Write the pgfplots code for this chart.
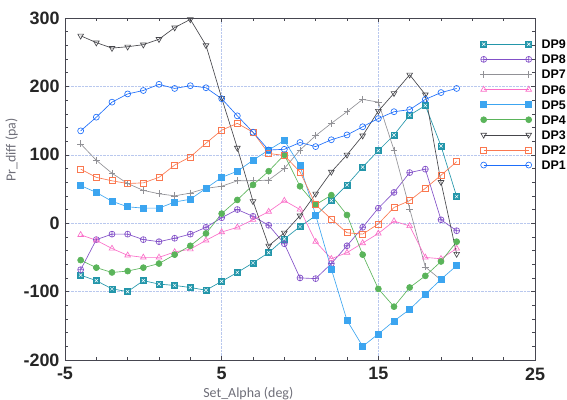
\documentclass[border=0pt]{standalone}
\usepackage{fontspec}
\setmainfont{Liberation Sans}
\newfontfamily\labelfont{Carlito}
\usepackage{pgfplots}
\pgfplotsset{compat=1.18}
\definecolor{c1}{RGB}{30,110,250}
\definecolor{c2}{RGB}{250,120,80}
\definecolor{c3}{RGB}{70,70,75}
\definecolor{c4}{RGB}{90,180,90}
\definecolor{c5}{RGB}{60,165,240}
\definecolor{c6}{RGB}{250,110,200}
\definecolor{c7}{RGB}{145,145,150}
\definecolor{c8}{RGB}{130,80,200}
\definecolor{c9}{RGB}{35,150,170}
\definecolor{gridc}{RGB}{185,200,238}
\definecolor{axc}{RGB}{70,70,80}
\definecolor{labc}{RGB}{110,110,120}
\pgfdeclareplotmark{boxx}{%
  \pgfpathrectangle{\pgfqpoint{-\pgfplotmarksize}{-\pgfplotmarksize}}{\pgfqpoint{2\pgfplotmarksize}{2\pgfplotmarksize}}%
  \pgfusepathqfillstroke
  \pgfscope
  \pgfsetstrokecolor{white}%
  \pgfsetlinewidth{0.5pt}%
  \pgfpathmoveto{\pgfqpoint{-0.55\pgfplotmarksize}{-0.55\pgfplotmarksize}}%
  \pgfpathlineto{\pgfqpoint{0.55\pgfplotmarksize}{0.55\pgfplotmarksize}}%
  \pgfpathmoveto{\pgfqpoint{-0.55\pgfplotmarksize}{0.55\pgfplotmarksize}}%
  \pgfpathlineto{\pgfqpoint{0.55\pgfplotmarksize}{-0.55\pgfplotmarksize}}%
  \pgfusepathqstroke
  \endpgfscope
}
\begin{document}
\begin{tikzpicture}
\useasboundingbox (-65bp,-40bp) rectangle (502bp,360bp);
\begin{axis}[
  at={(0,0)}, anchor=south west,
  scale only axis, width=470bp, height=342bp,
  xmin=-5, xmax=25, ymin=-200, ymax=300,
  xtick={-5,5,15,25}, xticklabels={-5,5,15,25},
  ytick={-200,-100,0,100,200,300}, yticklabels={-200,-100,0,100,200,300},
  minor x tick num=4, minor y tick num=4,
  tick align=inside,
  major tick length=4bp, minor tick length=3bp,
  every tick/.style={axc, line width=0.5pt},
  axis line style={axc, line width=0.8pt},
  grid=major,
  major grid style={densely dotted, gridc, line width=0.5pt},
  ticklabel style={font=\bfseries\fontsize{18}{18}\selectfont, text=black!85},
  xticklabel style={yshift=-4bp},
  yticklabel style={xshift=-2bp},
  xlabel={Set\_Alpha (deg)},
  ylabel={Pr\_diff (pa)},
  label style={font=\labelfont\fontsize{14}{14}\selectfont, text=labc},
  xlabel style={at={(axis cs:6.7,-239.5)}, anchor=north, inner sep=0pt},
  ylabel style={at={(axis cs:-8.4,107)}, anchor=center, inner sep=0pt, rotate=0},
  legend style={at={(0.883,0.937)}, anchor=north west, draw=none, fill=none,
    inner sep=0pt, font=\bfseries\fontsize{12.5}{12.5}\selectfont,
    row sep=6.1bp, column sep=0bp,
    nodes={inner sep=0pt, text height=9bp, text depth=0bp}},
  legend cell align=left,
  legend image code/.code={\path[draw=none,fill=none] (0bp,0bp) -- (58bp,0bp);
    \draw[mark repeat=1,mark phase=1,#1] plot coordinates {(0bp,0bp) (45bp,0bp)};},
  every axis plot/.append style={line width=0.65pt, mark size=3pt},
  clip=false,
]
\addplot[c9, mark=boxx, mark options={fill=c9, draw=c9}] coordinates {
(-4,-76) (-3,-84) (-2,-96) (-1,-100) (0,-84) (1,-89) (2,-91) (3,-94) (4,-98) (5,-85)
(6,-72) (7,-58) (8,-43) (9,-23) (10,-5) (11,11) (12,33) (13,56) (14,82) (15,106)
(16,129) (17,158) (18,172) (19,113) (20,39)};
\addlegendentry{DP9}
\addplot[c8, mark=oplus, mark options={draw=c8}] coordinates {
(-4,-68) (-3,-24) (-2,-16) (-1,-16) (0,-24) (1,-27) (2,-22) (3,-16) (4,-6) (5,8)
(6,20) (7,10) (8,-3) (9,-30) (10,-80) (11,-81) (12,-59) (13,-33) (14,-6) (15,22)
(16,45) (17,74) (18,79) (19,5) (20,-11)};
\addlegendentry{DP8}
\addplot[c7, mark=+, mark size=3.5pt] coordinates {
(-4,116) (-3,92) (-2,73) (-1,58) (0,48) (1,43) (2,40) (3,44) (4,51) (5,54)
(6,62) (7,62) (8,63) (9,80) (10,107) (11,128) (12,146) (13,163) (14,181) (15,177)
(16,107) (17,21) (18,-64) (19,-83)};
\addlegendentry{DP7}
\addplot[c6, mark=triangle, mark size=3.3pt] coordinates {
(-4,-17) (-3,-25) (-2,-37) (-1,-47) (0,-50) (1,-50) (2,-42) (3,-38) (4,-25) (5,-13)
(6,-6) (7,5) (8,17) (9,33) (10,20) (11,-27) (12,-52) (13,-43) (14,-29) (15,-15)
(16,3) (17,-4) (18,-50) (19,-52) (20,-37)};
\addlegendentry{DP6}
\addplot[c5, mark=square*, mark options={fill=c5}] coordinates {
(-4,55) (-3,45) (-2,32) (-1,24) (0,22) (1,22) (2,31) (3,35) (4,51) (5,67)
(6,76) (7,92) (8,107) (9,121) (10,84) (11,12) (12,-67) (13,-142) (14,-180) (15,-162)
(16,-143) (17,-126) (18,-104) (19,-82) (20,-62)};
\addlegendentry{DP5}
\addplot[c4, mark=*, mark options={fill=c4}] coordinates {
(-4,-54) (-3,-65) (-2,-72) (-1,-70) (0,-65) (1,-59) (2,-46) (3,-33) (4,-15) (5,14)
(6,34) (7,56) (8,76) (9,100) (10,54) (11,27) (12,41) (13,12) (14,-46) (15,-96)
(16,-122) (17,-94) (18,-77) (19,-56) (20,-27)};
\addlegendentry{DP4}
\addplot[c3, mark=triangle, mark options={rotate=180}, mark size=3.3pt] coordinates {
(-4,274) (-3,264) (-2,256) (-1,258) (0,261) (1,269) (2,286) (3,298) (4,260) (5,183)
(6,110) (7,32) (8,-33) (9,-14) (10,11) (11,43) (12,75) (13,100) (14,128) (15,164)
(16,190) (17,217) (18,188) (19,60) (20,-45)};
\addlegendentry{DP3}
\addplot[c2, mark=square] coordinates {
(-4,79) (-3,67) (-2,62) (-1,58) (0,59) (1,67) (2,85) (3,97) (4,117) (5,136)
(6,146) (7,133) (8,102) (9,99) (10,75) (11,27) (12,6) (13,-14) (14,-16) (15,-1)
(16,23) (17,33) (18,51) (19,70) (20,90)};
\addlegendentry{DP2}
\addplot[c1, mark=o] coordinates {
(-4,135) (-3,155) (-2,177) (-1,189) (0,194) (1,203) (2,197) (3,201) (4,198) (5,182)
(6,157) (7,133) (8,107) (9,108) (10,118) (11,112) (12,122) (13,129) (14,141) (15,153)
(16,163) (17,166) (18,181) (19,191) (20,197)};
\addlegendentry{DP1}
\end{axis}
\end{tikzpicture}
\end{document}
